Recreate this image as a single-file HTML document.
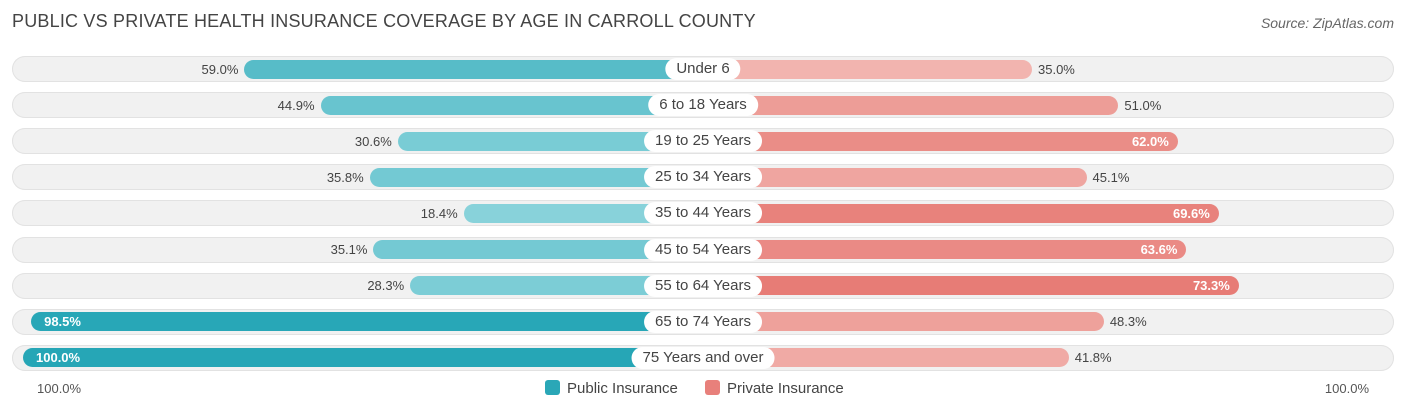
<!DOCTYPE html>
<html><head><meta charset="utf-8"><style>
body{margin:0;background:#fff;font-family:"Liberation Sans",sans-serif;}
#wrap{position:relative;width:1406px;height:414px;overflow:hidden;}
.title{position:absolute;left:12px;top:11px;font-size:18px;color:#444;letter-spacing:0.2px}
.src{position:absolute;right:12px;top:15px;font-size:14px;color:#666;font-style:italic}
.track{position:absolute;left:12px;width:1382px;height:26px;border-radius:13px;background:#f1f1f1;box-shadow:inset 0 0 0 1px #e2e2e2}
.bar{position:absolute;height:19px;border-radius:10px}
.lab{position:absolute;height:22px;line-height:22px;padding:0 11px;background:#fff;border-radius:11px;font-size:15px;color:#444;transform:translateX(-50%)}
.val{position:absolute;font-size:13px;line-height:19px;color:#444}
.leg{position:absolute;top:380px;font-size:15px;color:#444}
.sw{display:inline-block;width:15px;height:15px;border-radius:3px;vertical-align:-2px;margin-right:7px}
.ax{position:absolute;top:381px;font-size:13px;color:#555}
</style></head><body>
<div id="wrap">
<div class="title">PUBLIC VS PRIVATE HEALTH INSURANCE COVERAGE BY AGE IN CARROLL COUNTY</div>
<div class="src">Source: ZipAtlas.com</div>
<div id="rows"></div>
<div class="ax" style="left:37px">100.0%</div>
<div class="ax" style="right:37px">100.0%</div>
<div class="leg" style="left:545px"><span class="sw" style="background:#2aa7b7"></span>Public Insurance</div>
<div class="leg" style="left:705px"><span class="sw" style="background:#e8807b"></span>Private Insurance</div>
</div>
<script>
const categories=["Under 6","6 to 18 Years","19 to 25 Years","25 to 34 Years","35 to 44 Years","45 to 54 Years","55 to 64 Years","65 to 74 Years","75 Years and over"];
const publicVals=[59.0,44.9,30.6,35.8,18.4,35.1,28.3,98.5,100.0];
const privateVals=[35.0,51.0,62.0,45.1,69.6,63.6,73.3,48.3,41.8];
const C=703,OFF=140,K=5.4;
function xl(v){return C-OFF-v*K;}
function xr(v){return C+OFF+v*K;}
function mix(a,b,t){return 'rgb('+a.map((x,i)=>Math.round(x+(b[i]-x)*t)).join(',')+')';}
const rows=document.getElementById('rows');
categories.forEach((c,i)=>{
 const cy=69+i*36.1;
 const tr=document.createElement('div');tr.className='track';tr.style.top=(cy-13)+'px';
 
 
 rows.appendChild(tr);
 const pv=publicVals[i],rv=privateVals[i];
 const pb=document.createElement('div');pb.className='bar';
 pb.style.left=xl(pv)+'px';pb.style.width=(C-xl(pv))+'px';pb.style.top=(cy-9.5)+'px';
 pb.style.background=mix([140,212,220],[38,166,182],Math.max(0,Math.min(1,(pv-15)/85)));
 
 
 rows.appendChild(pb);
 const rb=document.createElement('div');rb.className='bar';
 rb.style.left=C+'px';rb.style.width=(xr(rv)-C)+'px';rb.style.top=(cy-9.5)+'px';
 rb.style.background=mix([243,187,182],[231,122,116],Math.max(0,Math.min(1,(rv-30)/45)));
 
 
 rows.appendChild(rb);
 const pl=document.createElement('div');pl.className='val';pl.textContent=pv.toFixed(1)+'%';pl.style.top=(cy-9.5)+'px';
 if(pv>90){pl.style.left=(xl(pv)+13)+'px';pl.style.color='#fff';pl.style.fontWeight='bold';}
 else{pl.style.right=(1406-xl(pv)+6)+'px';}
 
 
 rows.appendChild(pl);
 const rl=document.createElement('div');rl.className='val';rl.textContent=rv.toFixed(1)+'%';rl.style.top=(cy-9.5)+'px';
 if(rv>60){rl.style.right=(1406-xr(rv)+9)+'px';rl.style.color='#fff';rl.style.fontWeight='bold';}
 else{rl.style.left=(xr(rv)+6)+'px';}
 
 
 rows.appendChild(rl);
 const lb=document.createElement('div');lb.className='lab';lb.textContent=c;lb.style.left=C+'px';lb.style.top=(cy-11)+'px';
 
 
 rows.appendChild(lb);
});
</script>
</body></html>
